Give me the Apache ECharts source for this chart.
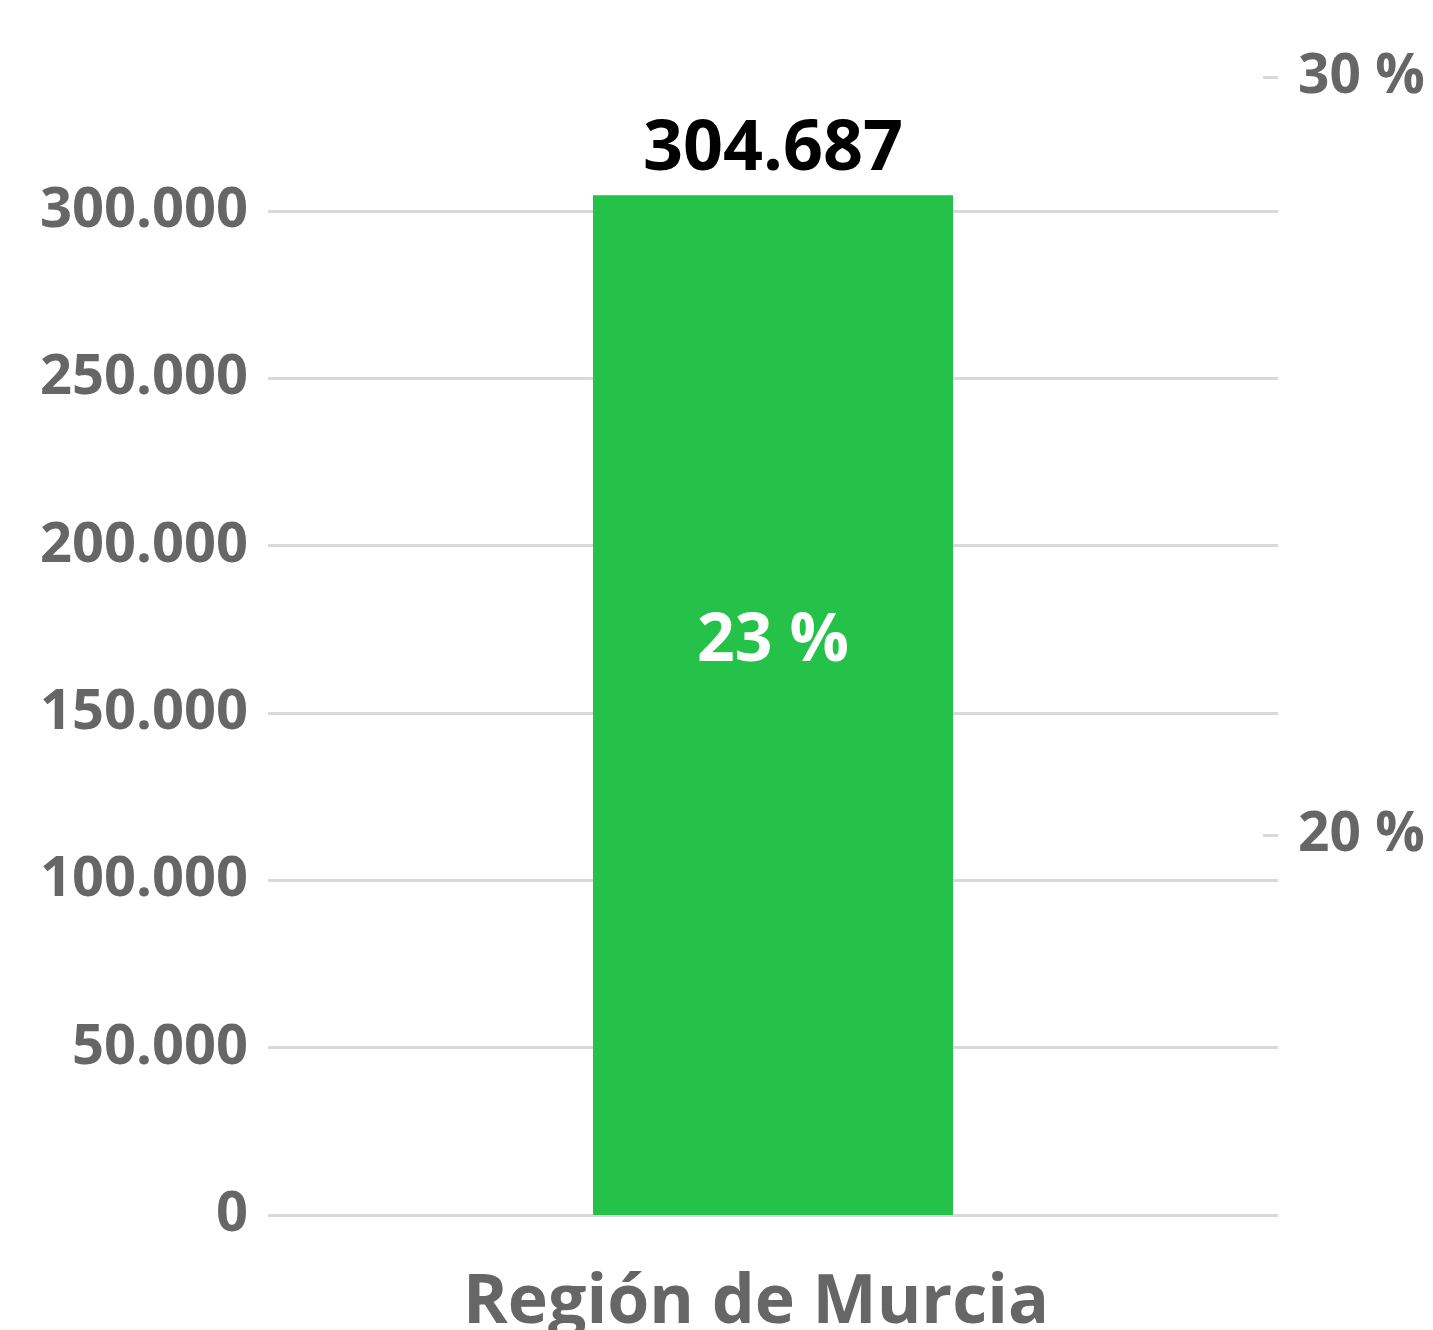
<!DOCTYPE html>
<html>
<head>
<meta charset="utf-8">
<script src="https://cdn.jsdelivr.net/npm/echarts@6/dist/echarts.min.js"></script>
<style>
html,body{margin:0;padding:0;background:#fff;}
#c{width:1433px;height:1330px;}
</style>
</head>
<body>
<div id="c"></div>
<script>
const categories = ['Región de Murcia'];
const values = [304687];
const percents = [23];
const leftTicks = [0, 50000, 100000, 150000, 200000, 250000, 300000];
const rightTicks = [20, 30];

function fmt(n) {
  return String(n).replace(/\B(?=(\d{3})+(?!\d))/g, '.');
}
const FONT = 'Open Sans';
const chart = echarts.init(document.getElementById('c'));
chart.setOption({
  animation: false,
  backgroundColor: '#ffffff',
  grid: { left: 268, right: 155, top: 77, bottom: 115, containLabel: false, outerBoundsMode: 'none' },
  xAxis: {
    type: 'category',
    data: categories,
    axisLine: { show: false },
    axisTick: { show: false },
    axisLabel: { color: '#666666', fontFamily: FONT, fontWeight: 'bold', fontSize: 68, margin: 55, padding: [0, 34, 0, 0] }
  },
  yAxis: [{
    type: 'value',
    min: 0,
    max: 340000,
    axisLine: { show: false },
    axisTick: { show: false, customValues: leftTicks },
    axisLabel: { customValues: leftTicks, color: '#666666', fontFamily: FONT, fontWeight: 'bold', fontSize: 56, margin: 20, formatter: v => fmt(v) },
    splitLine: { show: true, lineStyle: { color: '#d9d9d9', width: 3 } }
  }, {
    type: 'value',
    min: 15,
    max: 30,
    position: 'right',
    axisLine: { show: false },
    axisTick: { show: true, inside: true, length: 15, customValues: rightTicks, lineStyle: { color: '#d9d9d9', width: 3 } },
    axisLabel: { customValues: rightTicks, color: '#666666', fontFamily: FONT, fontWeight: 'bold', fontSize: 55, margin: 20, formatter: v => v + ' %' },
    splitLine: { show: false }
  }],
  series: [{
    type: 'bar',
    data: values,
    barWidth: 360,
    itemStyle: { color: '#25c24a' },
    label: { show: true, position: 'top', distance: 10, color: '#000000', fontFamily: FONT, fontWeight: 'bold', fontSize: 70, formatter: p => fmt(p.value) }
  }, {
    type: 'line',
    yAxisIndex: 1,
    data: percents,
    symbol: 'circle',
    symbolSize: 2,
    showSymbol: true,
    itemStyle: { color: 'rgba(37,194,74,0)', borderWidth: 0 },
    lineStyle: { width: 0, color: 'rgba(0,0,0,0)' },
    label: { show: true, position: 'bottom', distance: 0, color: '#ffffff', fontFamily: FONT, fontWeight: 'bold', fontSize: 66, formatter: p => p.value + ' %' },
    labelLayout: { hideOverlap: false },
    z: 5
  }]
});
</script>
</body>
</html>
